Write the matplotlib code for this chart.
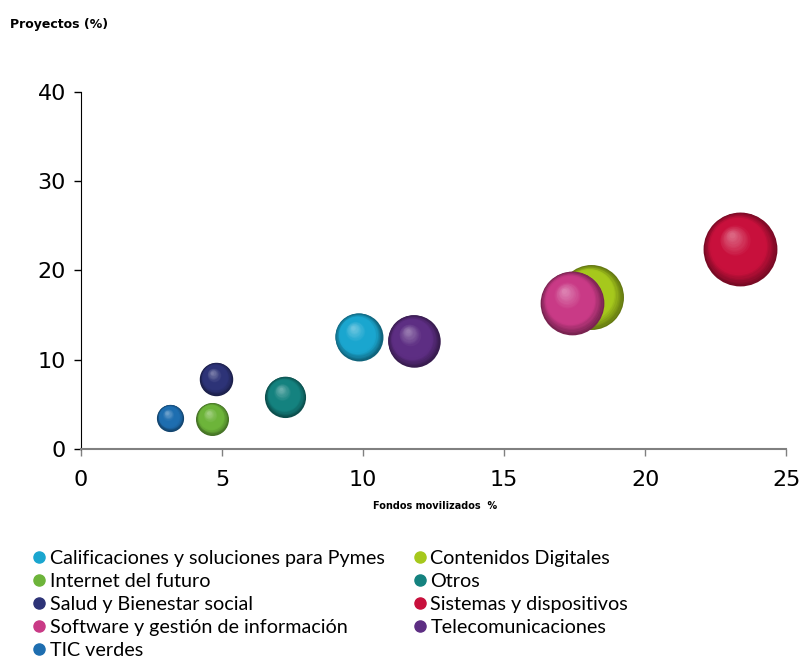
import numpy as np
import matplotlib
matplotlib.use("Agg")
from matplotlib import pyplot as plt
from matplotlib import transforms
from matplotlib.lines import Line2D
from matplotlib.colors import to_rgb

areas = ["Calificaciones y soluciones para Pymes", "Contenidos Digitales",
         "Internet del futuro", "Otros", "Salud y Bienestar social",
         "Sistemas y dispositivos", "Software y gestión de información",
         "Telecomunicaciones", "TIC verdes"]
fondos = [9.84, 18.08, 4.65, 7.24, 4.79, 23.37, 17.4, 11.79, 3.16]
proyectos = [12.55, 17.0, 3.36, 5.83, 7.84, 22.4, 16.36, 12.1, 3.47]
colores = ["#1aa6cf", "#a6c81c", "#6db43a", "#14827f", "#2d3377",
           "#c8103c", "#c93a86", "#5d2e83", "#1e6eb0"]

fig = plt.figure(figsize=(8.03, 6.61), dpi=100)
ax = fig.add_axes([0.101, 0.321, 0.878, 0.54])


def mix(c1, c2, t):
    return tuple(a + (b - a) * t for a, b in zip(c1, c2))


# bubble area proportional to fondos (like Excel), drawn as shaded spheres
n = 26
for i, (x, y, c) in enumerate(zip(fondos, proyectos, colores)):
    base = np.array(to_rgb(c))
    dark = base * 0.6
    light = mix(base, (1, 1, 1), 0.35)
    r = 5.5 * np.sqrt(x)  # radius in points
    for k in range(n):
        t = k / (n - 1)
        f = 1 - 0.92 * t
        if t < 0.25:
            col = mix(dark, base, t / 0.25)
        elif t < 0.6:
            col = tuple(base)
        else:
            col = mix(base, light, (t - 0.6) / 0.4)
        dx = -(1 - f) * r * 0.25
        dy = (1 - f) * r * 0.4
        tr = transforms.offset_copy(ax.transData, fig=fig, x=dx, y=dy, units="points")
        ax.scatter([x], [y], s=(2 * r * f) ** 2, color=[col], linewidths=0,
                   transform=tr, zorder=2 + i + k / n, clip_on=False)

ax.set_xlim(0, 25)
ax.set_ylim(0, 40)
ax.set_xticks([0, 5, 10, 15, 20, 25])
ax.set_yticks([0, 10, 20, 30, 40])
ax.tick_params(labelsize=16, length=5, width=1)
ax.tick_params(axis="x", colors="#808080", labelcolor="black", pad=10)
ax.tick_params(axis="y", pad=6)
ax.spines["top"].set_visible(False)
ax.spines["right"].set_visible(False)
ax.spines["bottom"].set_color("#808080")
ax.spines["bottom"].set_linewidth(1.5)
ax.spines["left"].set_color("black")

fig.text(0.013, 0.963, "Proyectos (%)", fontsize=9, fontweight="bold", va="center")
fig.text(0.542, 0.235, "Fondos movilizados  %", fontsize=7, fontweight="bold",
         ha="center", va="center")

# legend laid out row by row like the original
orden = [0, 2, 4, 6, 8, 1, 3, 5, 7]
handles = [Line2D([], [], marker="o", linestyle="", markersize=8,
                  markerfacecolor=colores[j], markeredgecolor=colores[j]) for j in orden]
labels = [areas[j] for j in orden]
fig.legend(handles, labels, loc="upper left", bbox_to_anchor=(0.038, 0.168),
           ncol=2, frameon=False, prop={"family": "Lato", "size": 14.2},
           handletextpad=0.1, handlelength=0.9, columnspacing=1.3,
           labelspacing=0.3, borderaxespad=0, borderpad=0)

fig.savefig("out.png", dpi=100)
